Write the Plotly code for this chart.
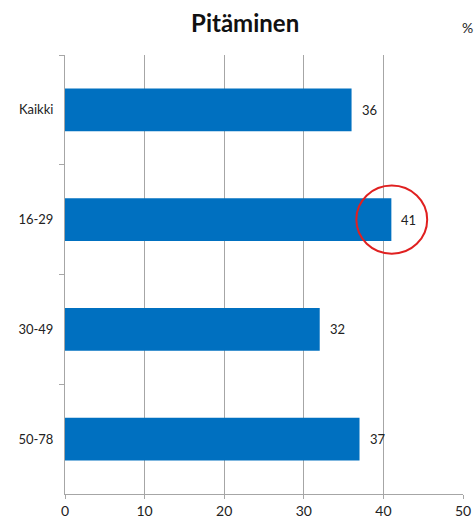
import plotly.graph_objects as go

categories = ["Kaikki", "16-29", "30-49", "50-78"]
values = [36, 41, 32, 37]
x_ticks = [0, 10, 20, 30, 40, 50]
title_text = "Pitäminen"
unit_text = "%"
highlight_index = 1

FONT = "Lato, Calibri, Carlito, sans-serif"
GRID = "#a6a6a6"
BAR = "#0070c0"

fig = go.Figure()
fig.add_trace(go.Bar(
    x=values, y=categories, orientation="h",
    marker=dict(color=BAR, line=dict(width=0)),
    width=0.39, hoverinfo="x+y",
))

for c, v in zip(categories, values):
    fig.add_annotation(x=v, y=c, text=str(v), showarrow=False,
                       xanchor="left", xshift=8,
                       font=dict(family=FONT, size=13, color="#222222"))

# red highlight ellipse around the 16-29 value
hv = values[highlight_index]
fig.add_shape(type="circle", xref="x", yref="y",
              x0=hv - 4.4, x1=hv + 4.5,
              y0=highlight_index - 0.31, y1=highlight_index + 0.31,
              line=dict(color="#e02020", width=2))

fig.add_annotation(text=unit_text, xref="paper", yref="paper", x=1.0,
                   y=1 + 28 / 439, xanchor="center", yanchor="middle",
                   showarrow=False, xshift=4,
                   font=dict(family=FONT, size=14, color="#222222"))

fig.update_layout(
    width=476, height=519,
    margin=dict(l=65, r=13, t=55, b=25, autoexpand=False),
    paper_bgcolor="white", plot_bgcolor="white",
    showlegend=False,
    font=dict(family=FONT, size=13, color="#222222"),
    title=dict(text="<b>" + title_text + "</b>", x=0.515, xanchor="center",
               y=1 - 24 / 519, yanchor="middle", yref="container",
               font=dict(family=FONT, size=24, color="#111111")),
    xaxis=dict(range=[0, 50], tickvals=x_ticks, showgrid=True, gridcolor=GRID,
               gridwidth=1, zeroline=False, showline=True, linecolor=GRID,
               linewidth=1, ticks="outside", ticklen=4, tickcolor=GRID,
               automargin=False,
               tickfont=dict(family=FONT, size=14, color="#222222")),
    yaxis=dict(categoryorder="array", categoryarray=categories,
               autorange="reversed", showgrid=False, zeroline=False,
               showline=True, linecolor=GRID, linewidth=1,
               ticks="outside", ticklen=5, tickcolor=GRID,
               tickson="boundaries", ticklabelstandoff=8, automargin=False,
               tickfont=dict(family=FONT, size=13, color="#222222")),
)

fig.write_html("out.html", config={"displayModeBar": False},
               post_script="document.body.style.margin='0';document.body.style.overflow='hidden';")
